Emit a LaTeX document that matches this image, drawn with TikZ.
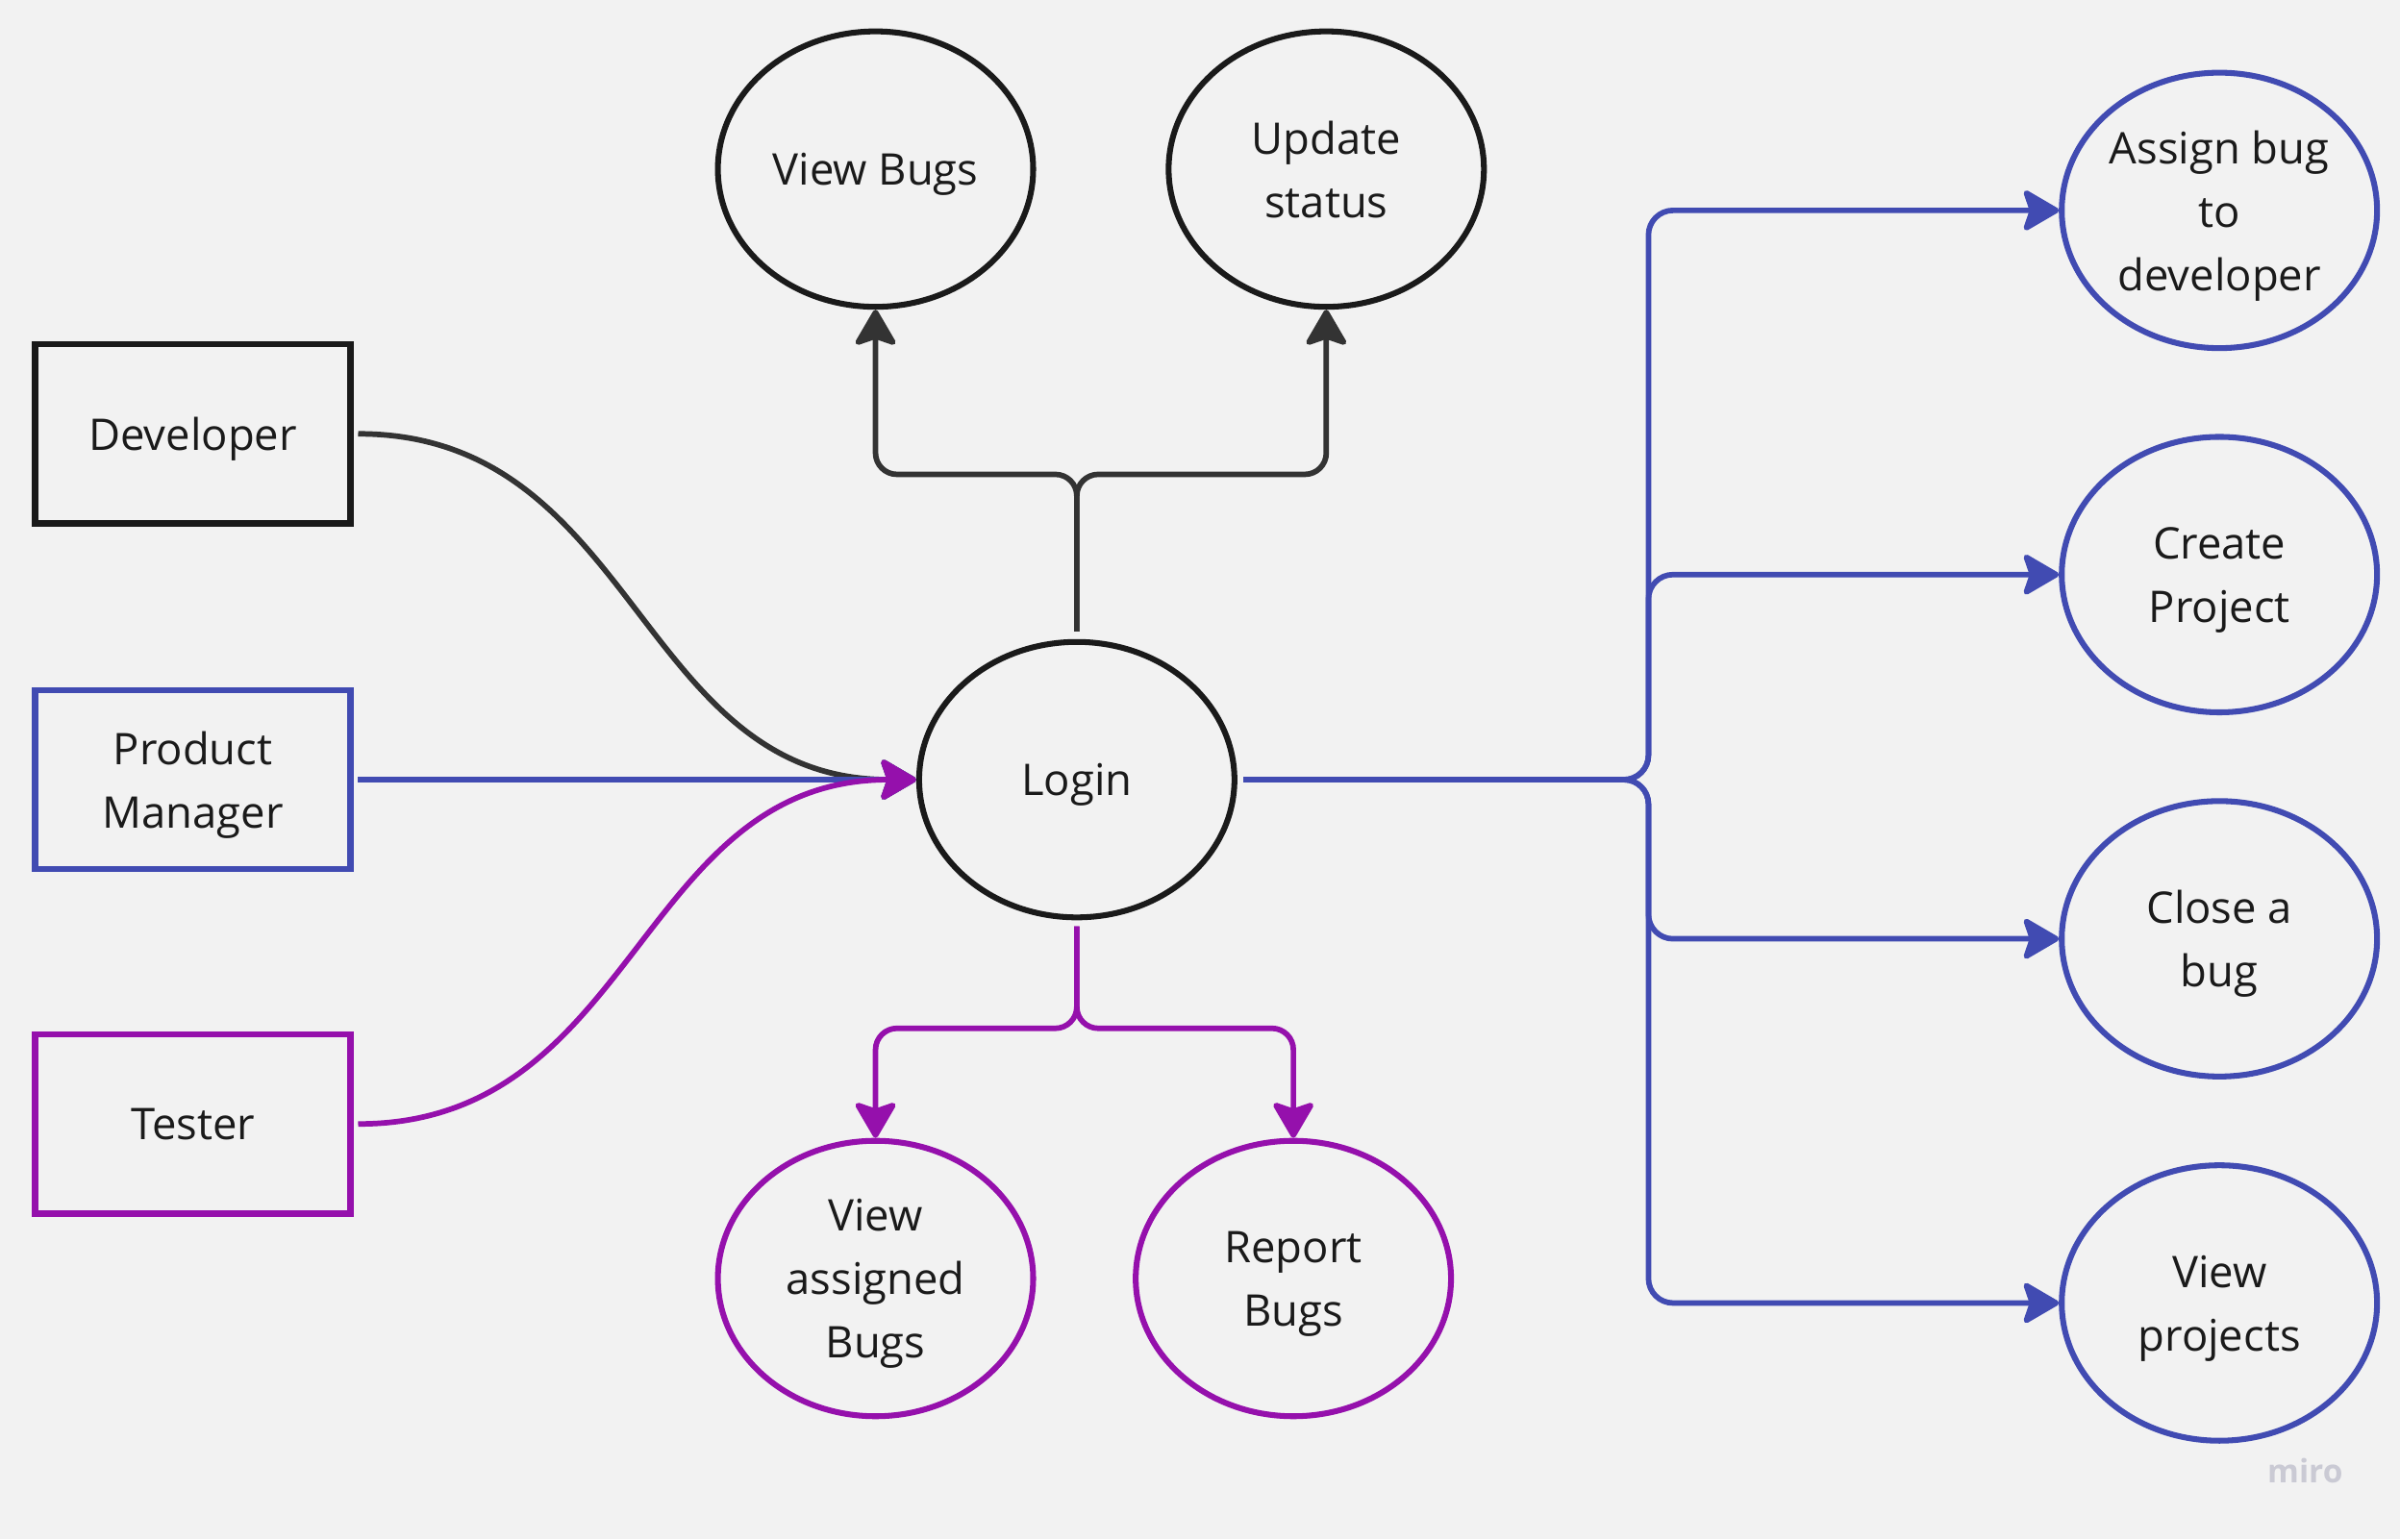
\documentclass[tikz,border=0pt]{standalone}
\usepackage{fontspec}
\setmainfont{Open Sans}
\usetikzlibrary{shapes.geometric,arrows.meta}

\definecolor{bgcol}{HTML}{F2F2F2}
\definecolor{inkcol}{HTML}{1A1A1A}
\definecolor{linkcol}{HTML}{333333}
\definecolor{bluecol}{HTML}{414BB2}
\definecolor{violetcol}{HTML}{9510AC}
\definecolor{markcol}{HTML}{CACAD4}

\tikzset{
  actor/.style={draw, rectangle, line width=4pt, minimum width=206pt,
    minimum height=117pt, inner sep=0pt, align=center, text=inkcol,
    text depth=0pt},
  usecase/.style={draw, ellipse, line width=3.8pt, minimum width=206pt,
    minimum height=180pt, inner sep=0pt, align=center, text=inkcol,
    text depth=0pt},
  link/.style={line width=3.6pt, line join=round,
    -{Stealth[length=26pt, width=30pt, inset=5pt, round]}},
  plain/.style={line width=3.6pt},
  every node/.style={font=\fontsize{28.5}{41.5}\selectfont},
}

\begin{document}
\begin{tikzpicture}[x=1pt, y=-1pt]
  % canvas
  \fill[bgcol] (0,0) rectangle (1568,1006);
  \useasboundingbox (0,0) rectangle (1568,1006);

  % actors
  \node[actor, draw=inkcol]    (dev)    at (126,283.5) {Developer};
  \node[actor, draw=bluecol]   (pm)     at (126,509.5) {Product\\Manager};
  \node[actor, draw=violetcol] (tester) at (126,734.5) {Tester};

  % central use case
  \node[usecase, draw=inkcol] (login) at (703.5,509.5) {Login};

  % developer use cases
  \node[usecase, draw=inkcol] (viewbugs) at (572,110.5) {View Bugs};
  \node[usecase, draw=inkcol] (update)   at (866.5,110.5) {Update\\status};

  % tester use cases
  \node[usecase, draw=violetcol] (assigned) at (572,835.5) {View\\assigned\\Bugs};
  \node[usecase, draw=violetcol] (report)   at (845,835.5) {Report\\Bugs};

  % product manager use cases
  \node[usecase, draw=bluecol] (assign)   at (1450,137.5) {Assign bug\\to\\developer};
  \node[usecase, draw=bluecol] (create)   at (1450,375.5) {Create\\Project};
  \node[usecase, draw=bluecol] (close)    at (1450,613.5) {Close a\\bug};
  \node[usecase, draw=bluecol] (projects) at (1450,851.5) {View\\projects};

  % actors into login
  \draw[link, linkcol] ([xshift=3pt]dev.east)
    .. controls +(182,0) and +(-182,0) .. (login.west);
  \draw[link, bluecol] ([xshift=3pt]pm.east) -- (login.west);
  \draw[link, violetcol] ([xshift=3pt]tester.east)
    .. controls +(182,0) and +(-182,0) .. (login.west);

  % fork above login
  \coordinate (topfork) at (703.5,310);
  \draw[link, linkcol, rounded corners=14pt] ([yshift=5pt]login.north) -- (topfork) -| (viewbugs.south);
  \draw[link, linkcol, rounded corners=14pt] ([yshift=5pt]login.north) -- (topfork) -| (update.south);

  % fork below login
  \coordinate (botfork) at (703.5,672);
  \draw[link, violetcol, rounded corners=14pt] ([yshift=-4pt]login.south) -- (botfork) -| (assigned.north);
  \draw[link, violetcol, rounded corners=14pt] ([yshift=-4pt]login.south) -- (botfork) -| (report.north);

  % fork right of login
  \coordinate (rightfork) at (1077,509.5);
  \draw[link, bluecol, rounded corners=16pt] ([xshift=4pt]login.east) -- (rightfork) |- (assign.west);
  \draw[link, bluecol, rounded corners=16pt] ([xshift=4pt]login.east) -- (rightfork) |- (create.west);
  \draw[link, bluecol, rounded corners=16pt] ([xshift=4pt]login.east) -- (rightfork) |- (close.west);
  \draw[link, bluecol, rounded corners=16pt] ([xshift=4pt]login.east) -- (rightfork) |- (projects.west);

  % watermark
  \node[text=markcol, font=\fontsize{21}{24}\selectfont\bfseries] (mark) at (1506,961) {miro};
\end{tikzpicture}
\end{document}
